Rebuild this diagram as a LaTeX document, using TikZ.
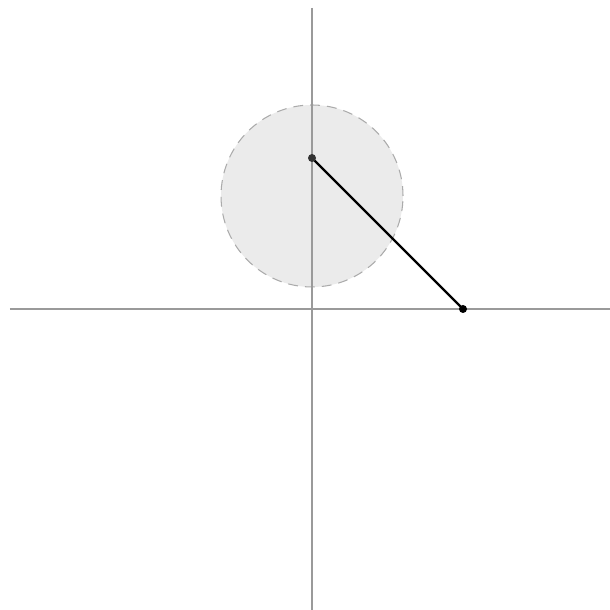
\documentclass[tikz,border=0pt]{standalone}
\usepackage{tikz}

\definecolor{axisgray}{HTML}{9A9A9A}
\definecolor{discfill}{HTML}{EBEBEB}
\definecolor{discedge}{HTML}{ABABAB}
\definecolor{pivotdark}{HTML}{333333}

\begin{document}
\begin{tikzpicture}[x=1cm,y=1cm]

        % Frame
        \useasboundingbox (-3.12,-3.01) rectangle (2.98,3.09);

        % Disc
        \fill[discfill] (0,1.13) circle (0.91);
        \draw[discedge, line width=0.3pt, dash pattern=on 2.8pt off 2pt] (0,1.13) circle (0.91);

        % Axes
        \draw[axisgray, line width=0.4pt] (-3.02,0) -- (2.98,0);
        \draw[axisgray, line width=0.4pt] (0,3.01) -- (0,-3.01);

        % Points
        \coordinate (pivot) at (0,1.51);
        \coordinate (tip) at (1.51,0);

        % Rod
        \draw[black, line width=0.65pt] (pivot) -- (tip);
        \fill[pivotdark] (pivot) circle (0.04);
        \fill[black] (tip) circle (0.04);

\end{tikzpicture}
\end{document}
